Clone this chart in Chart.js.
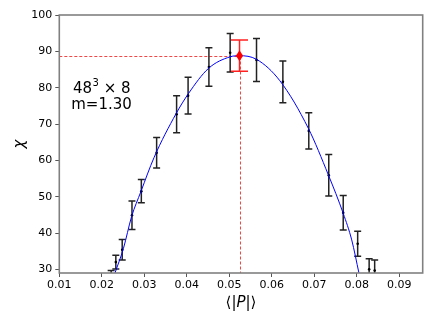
<!DOCTYPE html>
<html>
<head>
<meta charset="utf-8">
<script src="https://cdn.jsdelivr.net/npm/chart.js@4.4.1/dist/chart.umd.min.js"></script>
<style>
  html, body { margin:0; padding:0; background:#ffffff; }
  canvas { display:block; }
</style>
</head>
<body>
<canvas id="c" width="432" height="324"></canvas>
<script>
// ---- data ----
const pointX = [0.0222,0.0233,0.0248,0.0271,0.0293,0.0329,0.0376,0.0403,0.0452,0.0502,0.0564,0.0626,0.0687,0.0734,0.0768,0.0802,0.0829,0.0842];
const pointY = [27.0,32.0,35.4,44.9,51.5,62.1,72.7,77.8,85.7,89.6,87.6,81.6,68.1,55.9,45.6,37.05,30.0,29.7];
const pointErr = [2.7,1.9,2.8,3.9,3.2,4.2,5.1,5.05,5.3,5.3,5.9,5.75,5.0,5.7,4.75,3.45,2.9,2.9];

const curveX = [0.0231,0.0251,0.0270,0.0292,0.0323,0.0375,0.0404,0.0451,0.0502,0.0524,0.0564,0.0619,0.0686,0.0733,0.0768,0.0788,0.0805];
const curveY = [29.0,35.8,44.5,51.4,60.8,72.9,78.4,85.3,88.5,88.8,87.8,81.9,68.8,56.0,45.4,38.1,29.0];

const peakX = [0.0524];
const peakY = [88.8];
const peakErr = [4.3];

const xTicks = [0.01,0.02,0.03,0.04,0.05,0.06,0.07,0.08,0.09];
const yTicks = [30,40,50,60,70,80,90,100];
const xRange = [0.01, 0.0955];
const yRange = [29, 100];

const xLabelParts = [["⟨|", false], ["P", true], ["|⟩", false]];
const yLabel = "χ";
const annotLine1 = ["48", "3", " × 8"];
const annotLine2 = "m=1.30";

const FONT = "'DejaVu Sans', sans-serif";

const plugin = {
  id: 'extras',
  beforeDatasetsDraw(chart) {
    const {ctx, chartArea: a, scales: {x, y}} = chart;
    ctx.save();
    ctx.beginPath();
    ctx.rect(a.left, a.top, a.right - a.left, a.bottom - a.top);
    ctx.clip();
    // dashed guide lines to the peak
    const px = Math.round(x.getPixelForValue(peakX[0])) + 0.5;
    const py = Math.round(y.getPixelForValue(peakY[0])) + 0.5;
    ctx.strokeStyle = 'rgba(240,50,50,0.9)';
    ctx.lineWidth = 1;
    ctx.setLineDash([3, 2]);
    ctx.beginPath();
    ctx.moveTo(a.left, py); ctx.lineTo(px, py);
    ctx.moveTo(px, py); ctx.lineTo(px, a.bottom);
    ctx.stroke();
    ctx.setLineDash([]);
    // black error bars
    ctx.strokeStyle = '#222222';
    ctx.lineWidth = 1.5;
    for (let i = 0; i < pointX.length; i++) {
      const cx = x.getPixelForValue(pointX[i]);
      const t = y.getPixelForValue(pointY[i] + pointErr[i]);
      const b = y.getPixelForValue(pointY[i] - pointErr[i]);
      ctx.beginPath();
      ctx.moveTo(cx, t); ctx.lineTo(cx, b);
      ctx.moveTo(cx - 3.5, t); ctx.lineTo(cx + 3.5, t);
      ctx.moveTo(cx - 3.5, b); ctx.lineTo(cx + 3.5, b);
      ctx.stroke();
    }
    ctx.restore();
  },
  afterDatasetsDraw(chart) {
    const {ctx, chartArea: a, scales: {x, y}} = chart;
    ctx.save();
    ctx.beginPath();
    ctx.rect(a.left, a.top, a.right - a.left, a.bottom - a.top);
    ctx.clip();
    ctx.strokeStyle = '#ff2020';
    ctx.fillStyle = '#ff0000';
    ctx.lineWidth = 1.5;
    for (let i = 0; i < peakX.length; i++) {
      const cx = x.getPixelForValue(peakX[i]);
      const cy = y.getPixelForValue(peakY[i]);
      const t = y.getPixelForValue(peakY[i] + peakErr[i]);
      const b = y.getPixelForValue(peakY[i] - peakErr[i]);
      ctx.beginPath();
      ctx.moveTo(cx, t); ctx.lineTo(cx, b);
      ctx.moveTo(cx - 8.5, t); ctx.lineTo(cx + 8.5, t);
      ctx.moveTo(cx - 8.5, b); ctx.lineTo(cx + 8.5, b);
      ctx.stroke();
      ctx.beginPath();
      ctx.moveTo(cx, cy - 5.5);
      ctx.lineTo(cx + 3.6, cy);
      ctx.lineTo(cx, cy + 5.5);
      ctx.lineTo(cx - 3.6, cy);
      ctx.closePath();
      ctx.fill();
    }
    ctx.restore();
  },
  afterDraw(chart) {
    const {ctx, chartArea: a} = chart;
    ctx.save();
    // frame
    ctx.strokeStyle = '#808080';
    ctx.lineWidth = 1.6;
    ctx.strokeRect(a.left, a.top, a.right - a.left, a.bottom - a.top);
    // x axis title
    ctx.fillStyle = '#000000';
    ctx.textBaseline = 'middle';
    ctx.textAlign = 'left';
    let total = 0;
    const widths = xLabelParts.map(([s, it]) => {
      ctx.font = (it ? 'italic ' : '') + '15px ' + FONT;
      const w = ctx.measureText(s).width; total += w; return w;
    });
    let sx = (a.left + a.right) / 2 - total / 2;
    xLabelParts.forEach(([s, it], i) => {
      ctx.font = (it ? 'italic ' : '') + '15px ' + FONT;
      ctx.fillText(s, sx, 303);
      sx += widths[i];
    });
    // y axis title
    ctx.save();
    ctx.translate(20, (a.top + a.bottom) / 2);
    ctx.rotate(-Math.PI / 2);
    ctx.textAlign = 'center';
    ctx.font = 'italic 15px ' + FONT;
    ctx.fillText(yLabel, 0, 0);
    ctx.restore();
    // annotation
    const cxA = 101.5;
    ctx.font = '15px ' + FONT;
    const w1 = ctx.measureText(annotLine1[0]).width;
    const w3 = ctx.measureText(annotLine1[2]).width;
    ctx.font = '10px ' + FONT;
    const w2 = ctx.measureText(annotLine1[1]).width;
    let ax = cxA - (w1 + w2 + w3) / 2;
    ctx.textAlign = 'left';
    ctx.font = '15px ' + FONT;
    ctx.fillText(annotLine1[0], ax, 89);
    ctx.font = '10px ' + FONT;
    ctx.fillText(annotLine1[1], ax + w1 + 0.5, 83);
    ctx.font = '15px ' + FONT;
    ctx.fillText(annotLine1[2], ax + w1 + w2 + 0.5, 89);
    ctx.textAlign = 'center';
    ctx.fillText(annotLine2, cxA, 105);
    ctx.restore();
  }
};

const chart = new Chart(document.getElementById('c'), {
  type: 'scatter',
  data: {
    datasets: [
      {
        type: 'line',
        data: curveX.map((v, i) => ({x: v, y: curveY[i]})),
        borderColor: '#0000ff',
        borderWidth: 1,
        pointRadius: 0,
        fill: false,
        cubicInterpolationMode: 'monotone'
      },
      {
        data: pointX.map((v, i) => ({x: v, y: pointY[i]})),
        backgroundColor: '#000000',
        borderColor: '#000000',
        pointRadius: 1.3,
        borderWidth: 0
      }
    ]
  },
  options: {
    responsive: false,
    animation: false,
    devicePixelRatio: 1,
    layout: { padding: { left: 0, right: 9.3, top: 15, bottom: 0 } },
    plugins: { legend: { display: false }, tooltip: { enabled: false } },
    scales: {
      x: {
        type: 'linear',
        min: xRange[0], max: xRange[1],
        afterBuildTicks: s => { s.ticks = xTicks.map(v => ({value: v})); },
        afterFit: s => { s.height = 51; },
        grid: { drawOnChartArea: false, drawTicks: true, tickLength: 4, color: '#555555' },
        border: { display: false },
        ticks: {
          padding: 2,
          color: '#000000',
          font: { family: FONT, size: 11 },
          maxRotation: 0,
          autoSkip: false,
          callback: v => Number(v).toFixed(2)
        }
      },
      y: {
        type: 'linear',
        min: yRange[0], max: yRange[1],
        afterBuildTicks: s => { s.ticks = yTicks.map(v => ({value: v})); },
        afterFit: s => { s.width = 59.3; },
        grid: { drawOnChartArea: false, drawTicks: true, tickLength: 4, color: '#555555' },
        border: { display: false },
        ticks: {
          padding: 3,
          color: '#000000',
          font: { family: FONT, size: 11 },
          autoSkip: false,
          callback: v => String(v)
        }
      }
    }
  },
  plugins: [plugin]
});
</script>
</body>
</html>
